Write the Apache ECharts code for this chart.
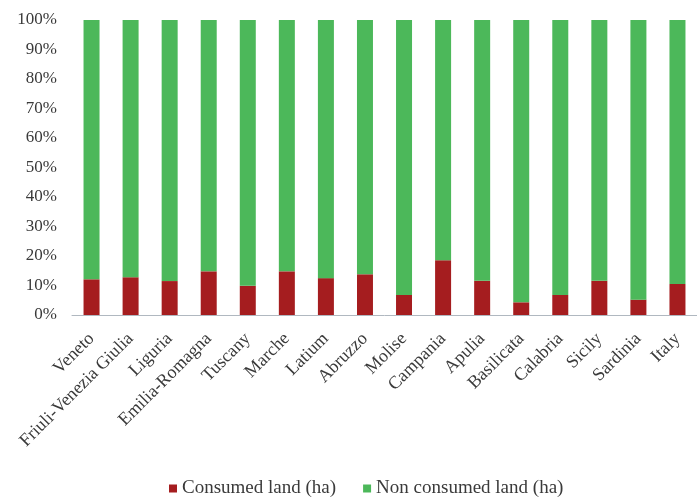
<!DOCTYPE html>
<html>
<head>
<meta charset="utf-8">
<script src="https://cdn.jsdelivr.net/npm/echarts@6/dist/echarts.min.js"></script>
<style>html,body{margin:0;padding:0;background:#fff;}#c{width:697px;height:497px;}</style>
</head>
<body>
<div id="c"></div>
<script>
const categories = ["Veneto","Friuli-Venezia Giulia","Liguria","Emilia-Romagna","Tuscany","Marche","Latium","Abruzzo","Molise","Campania","Apulia","Basilicata","Calabria","Sicily","Sardinia","Italy"];
const consumed = [12.1, 12.8, 11.5, 14.8, 9.9, 14.8, 12.5, 13.8, 6.8, 18.6, 11.6, 4.3, 6.8, 11.6, 5.2, 10.5];
const nonConsumed = consumed.map(v => +(100 - v).toFixed(1));
const yTicks = [0, 10, 20, 30, 40, 50, 60, 70, 80, 90, 100];

const font = '"Liberation Serif", "Times New Roman", serif';
const chart = echarts.init(document.getElementById('c'));
chart.setOption({
  animation: false,
  grid: { left: 72, top: 20, width: 630, height: 295, containLabel: false },
  legend: {
    top: 474, left: 164, itemWidth: 8, itemHeight: 8, itemGap: 27,
    icon: 'rect',
    textStyle: { fontFamily: font, fontSize: 19, color: '#3a3a3a' },
    data: ['Consumed land (ha)', 'Non consumed land (ha)']
  },
  xAxis: {
    type: 'category', data: categories,
    axisLine: { lineStyle: { color: '#b0b8c0' } },
    axisTick: { show: false },
    axisLabel: { rotate: 45, interval: 0, margin: 21, fontFamily: font, fontSize: 18, color: '#3a3a3a' }
  },
  yAxis: {
    type: 'value', min: yTicks[0], max: yTicks[yTicks.length - 1], interval: 10,
    splitLine: { show: false }, axisLine: { show: false }, axisTick: { show: false },
    axisLabel: { margin: 15, fontFamily: font, fontSize: 17, color: '#3a3a3a', formatter: v => v + '%' }
  },
  series: [
    { name: 'Consumed land (ha)', type: 'bar', stack: 's', data: consumed, barWidth: 16, itemStyle: { color: '#a51d1f' } },
    { name: 'Non consumed land (ha)', type: 'bar', stack: 's', data: nonConsumed, barWidth: 16, itemStyle: { color: '#4cb85a' } }
  ]
});
</script>
</body>
</html>
